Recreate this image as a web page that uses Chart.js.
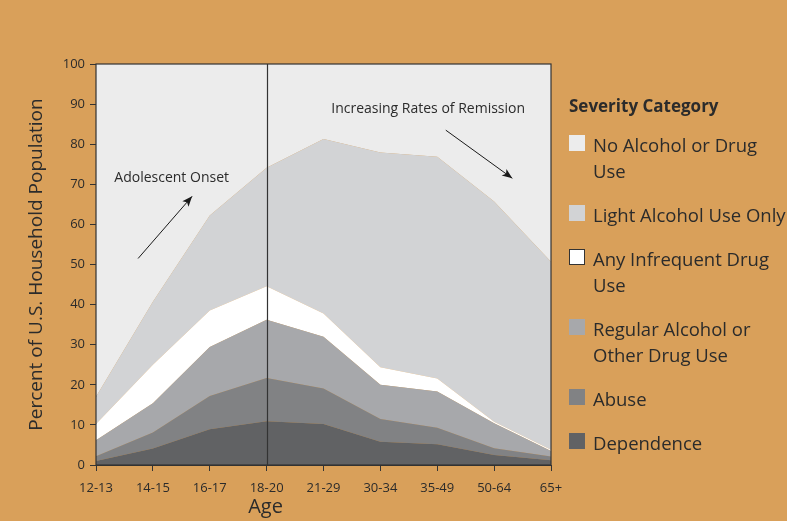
<!DOCTYPE html>
<html>
<head>
<meta charset="utf-8">
<script src="https://cdn.jsdelivr.net/npm/chart.js@4/dist/chart.umd.min.js"></script>
<style>
  html, body { margin: 0; padding: 0; background: #D9A05A; }
  #wrap { position: relative; width: 787px; height: 521px; overflow: hidden; }
  #legend { position: absolute; left: 569px; top: 94px; width: 230px; font-family: "Open Sans", sans-serif; color: #2b2b2b; }
  #legend .title { font-weight: bold; font-size: 17px; margin-bottom: 15px; }
  #legend .item { display: flex; align-items: flex-start; font-size: 18.5px; line-height: 26px; margin-bottom: 18px; white-space: nowrap; }
  #legend .sw { width: 16px; height: 16px; margin-top: 3px; margin-right: 8px; flex: none; box-sizing: border-box; }
</style>
</head>
<body>
<div id="wrap">
  <canvas id="chart" width="787" height="521"></canvas>
  <div id="legend"></div>
</div>
<script>
// Age groups on the x axis
const ageGroups = ['12-13', '14-15', '16-17', '18-20', '21-29', '30-34', '35-49', '50-64', '65+'];

// Upper edge of each band (cumulative percent)
const dependenceTop = [1.0, 4.1, 8.9, 10.9, 10.2, 5.8, 5.2, 2.5, 1.2];
const abuseTop      = [2.2, 8.1, 17.2, 21.7, 19.1, 11.5, 9.3, 4.2, 2.1];
const regularTop    = [6.2, 15.4, 29.4, 36.2, 32.0, 20.0, 18.3, 10.4, 3.5];
const infrequentTop = [10.2, 25.0, 38.5, 44.6, 37.8, 24.4, 21.6, 10.8, 3.8];
const lightTop      = [17.0, 40.7, 62.2, 74.1, 81.3, 77.9, 76.9, 65.7, 50.7];
const noneTop       = [100, 100, 100, 100, 100, 100, 100, 100, 100];

const yTicks = [0, 10, 20, 30, 40, 50, 60, 70, 80, 90, 100];

const FONT = '"Open Sans", sans-serif';
const INK = '#2b2b2b';

const bands = [
    { label: ['Dependence'], data: dependenceTop, color: '#616264' },
    { label: ['Abuse'], data: abuseTop, color: '#818284' },
    { label: ['Regular Alcohol or', 'Other Drug Use'], data: regularTop, color: '#a7a8ab' },
    { label: ['Any Infrequent Drug', 'Use'], data: infrequentTop, color: '#ffffff', outline: true },
    { label: ['Light Alcohol Use Only'], data: lightTop, color: '#d2d3d5' },
    { label: ['No Alcohol or Drug', 'Use'], data: noneTop, color: '#ececec' }
];

// Frame, the 18-20 divider, the x title and the two annotations
const overlayPlugin = {
    id: 'overlay',
    afterDatasetsDraw(chart) {
        const { ctx, chartArea: a, scales } = chart;
        ctx.save();
        ctx.strokeStyle = '#333';
        ctx.lineWidth = 1.2;
        ctx.strokeRect(a.left, a.top, a.right - a.left, a.bottom - a.top);

        const xDiv = Math.round(scales.x.getPixelForValue(3)) + 0.5;
        ctx.beginPath();
        ctx.moveTo(xDiv, a.top);
        ctx.lineTo(xDiv, a.bottom);
        ctx.stroke();

        ctx.fillStyle = INK;
        ctx.textAlign = 'center';
        ctx.textBaseline = 'middle';
        ctx.font = '20px ' + FONT;
        ctx.fillText('Age', xDiv - 2, 507);

        ctx.font = '14px ' + FONT;
        ctx.fillText('Adolescent Onset', scales.x.getPixelForValue(1.33), scales.y.getPixelForValue(71.5));
        ctx.fillText('Increasing Rates of Remission', scales.x.getPixelForValue(5.84), scales.y.getPixelForValue(88.8));

        const arrow = (x1, y1, x2, y2) => {
            ctx.strokeStyle = '#1a1a1a';
            ctx.lineWidth = 1;
            ctx.beginPath();
            ctx.moveTo(x1, y1);
            ctx.lineTo(x2, y2);
            ctx.stroke();
            const ang = Math.atan2(y2 - y1, x2 - x1);
            const len = 11, w = 0.38;
            ctx.fillStyle = '#1a1a1a';
            ctx.beginPath();
            ctx.moveTo(x2, y2);
            ctx.lineTo(x2 - len * Math.cos(ang - w), y2 - len * Math.sin(ang - w));
            ctx.lineTo(x2 - len * 0.7 * Math.cos(ang), y2 - len * 0.7 * Math.sin(ang));
            ctx.lineTo(x2 - len * Math.cos(ang + w), y2 - len * Math.sin(ang + w));
            ctx.closePath();
            ctx.fill();
        };
        arrow(scales.x.getPixelForValue(0.74), scales.y.getPixelForValue(51.5),
              scales.x.getPixelForValue(1.69), scales.y.getPixelForValue(67));
        arrow(scales.x.getPixelForValue(6.15), scales.y.getPixelForValue(83.5),
              scales.x.getPixelForValue(7.32), scales.y.getPixelForValue(71.5));
        ctx.restore();
    }
};

const chart = new Chart(document.getElementById('chart'), {
    type: 'line',
    data: {
        labels: ageGroups,
        datasets: bands.map((b, i) => ({
            label: b.label.join(' '),
            data: b.data,
            backgroundColor: b.color,
            borderWidth: 0,
            pointRadius: 0,
            tension: 0,
            fill: i === 0 ? 'origin' : '-1'
        }))
    },
    options: {
        responsive: false,
        animation: false,
        layout: { padding: { top: 64, right: 236, left: 0, bottom: 0 } },
        plugins: { legend: { display: false }, tooltip: { enabled: false } },
        scales: {
            x: {
                offset: false,
                grid: { display: true, drawOnChartArea: false, tickLength: 6, color: '#333' },
                border: { color: '#333' },
                ticks: { color: INK, font: { family: FONT, size: 13 }, padding: 9, maxRotation: 0 },
                afterFit(scale) { scale.height = 56; }
            },
            y: {
                min: 0,
                max: 100,
                afterBuildTicks(scale) { scale.ticks = yTicks.map(v => ({ value: v })); },
                grid: { display: true, drawOnChartArea: false, tickLength: 6, color: '#333' },
                border: { color: '#333' },
                ticks: { color: INK, font: { family: FONT, size: 13 }, padding: 5 },
                title: { display: true, text: 'Percent of U.S. Household Population', color: INK, font: { family: FONT, size: 19 }, padding: { top: 25, bottom: 0 } },
                afterFit(scale) { scale.width = 96; }
            }
        }
    },
    plugins: [overlayPlugin]
});

// HTML legend, top band first
const legend = document.getElementById('legend');
legend.innerHTML = '<div class="title">Severity Category</div>' +
    bands.slice().reverse().map(b =>
        '<div class="item"><span class="sw" style="background:' + b.color +
        (b.outline ? ';border:1.5px solid #333' : '') + '"></span><span>' +
        b.label.join('<br>') + '</span></div>').join('');
</script>
</body>
</html>
